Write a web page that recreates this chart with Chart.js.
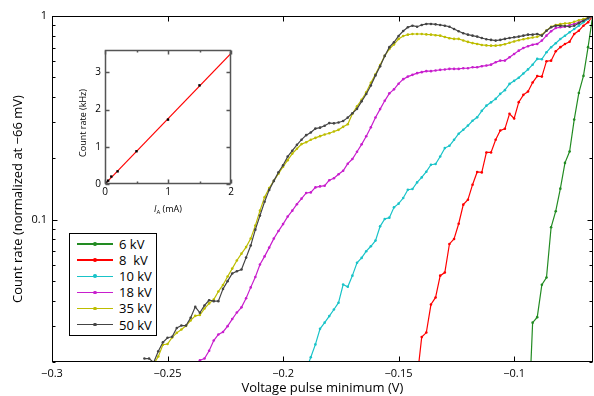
<!DOCTYPE html>
<html lang="en">
  <head>
    <meta charset="UTF-8" />
    <title>Count rate vs voltage pulse minimum</title>
    <script src="https://cdn.jsdelivr.net/npm/chart.js"></script>
    <style>
      html, body { margin: 0; padding: 0; background: #fff; }
      #wrap { position: relative; width: 594px; height: 396px; font-family: "Open Sans", sans-serif; }
      #main { position: absolute; left: 0; top: 0; }
      #inset { position: absolute; left: 60px; top: 40px; }
      #legend {
        position: absolute; left: 69px; top: 233px; width: 88px; height: 103px;
        box-sizing: border-box; border: 1.5px solid #000; background: #fff; padding-top: 2px;
      }
      .row { height: 16.1px; display: flex; align-items: center; font-size: 13px; white-space: pre; color: #000; }
      .swatch { position: relative; width: 36px; height: 1.4px; margin-left: 7px; margin-right: 6px; }
      .swatch i { position: absolute; left: 16px; top: -1.1px; width: 3.6px; height: 3.6px; border-radius: 50%; }
    </style>
  </head>
  <body>
    <div id="wrap">
      <canvas id="main" width="594" height="396"></canvas>
      <canvas id="inset" width="176" height="176"></canvas>
      <div id="legend"></div>
    </div>

    <script>
      // sample grid of the pulse minimum (V); every series ends at -0.066 V
      const voltage = [
        -0.260, -0.258, -0.256, -0.254, -0.252, -0.250, -0.248, -0.246, -0.244, -0.242,
        -0.240, -0.238, -0.236, -0.234, -0.232, -0.230, -0.228, -0.226, -0.224, -0.222,
        -0.220, -0.218, -0.216, -0.214, -0.212, -0.210, -0.208, -0.206, -0.204, -0.202,
        -0.200, -0.198, -0.196, -0.194, -0.192, -0.190, -0.188, -0.186, -0.184, -0.182,
        -0.180, -0.178, -0.176, -0.174, -0.172, -0.170, -0.168, -0.166, -0.164, -0.162,
        -0.160, -0.158, -0.156, -0.154, -0.152, -0.150, -0.148, -0.146, -0.144, -0.142,
        -0.140, -0.138, -0.136, -0.134, -0.132, -0.130, -0.128, -0.126, -0.124, -0.122,
        -0.120, -0.118, -0.116, -0.114, -0.112, -0.110, -0.108, -0.106, -0.104, -0.102,
        -0.100, -0.098, -0.096, -0.094, -0.092, -0.090, -0.088, -0.086, -0.084, -0.082,
        -0.080, -0.078, -0.076, -0.074, -0.072, -0.070, -0.068, -0.066,
      ];

      // normalized count rate, aligned to the end of the voltage grid
      const kv6 = [
        0.0089, 0.0312, 0.0332, 0.0479, 0.052, 0.0917, 0.11, 0.142, 0.19, 0.216,
        0.31, 0.419, 0.508, 0.703, 1.0,
      ];
      const kv8 = [
        0.0166, 0.0265, 0.0279, 0.0383, 0.0415, 0.0531, 0.055, 0.076, 0.0804, 0.0955,
        0.1185, 0.1253, 0.1485, 0.1714, 0.1706, 0.2138, 0.2138, 0.2467, 0.2742, 0.2793,
        0.3309, 0.3138, 0.3775, 0.4101, 0.4256, 0.4711, 0.507, 0.504, 0.6, 0.6035,
        0.671, 0.703, 0.729, 0.748, 0.816, 0.847, 0.896, 0.931, 1.0,
      ];
      const kv10 = [
        0.0184, 0.0211, 0.0244, 0.0291, 0.0312, 0.0336, 0.0362, 0.0391, 0.048, 0.0468,
        0.0531, 0.0614, 0.0649, 0.07, 0.074, 0.0789, 0.0927, 0.1008, 0.1023, 0.1149,
        0.1198, 0.1277, 0.1403, 0.1414, 0.1524, 0.1612, 0.172, 0.186, 0.1875, 0.2042,
        0.2246, 0.2305, 0.2467, 0.2641, 0.2762, 0.2897, 0.3057, 0.318, 0.3422, 0.3629,
        0.3767, 0.3917, 0.4146, 0.4323, 0.4641, 0.4803, 0.4977, 0.5219, 0.5468, 0.5765,
        0.6158, 0.6136, 0.6637, 0.7026, 0.7345, 0.7708, 0.8003, 0.8318, 0.8636, 0.8965,
        0.9314, 0.9667, 1.0,
      ];
      const kv18 = [
        0.0204, 0.0208, 0.0227, 0.0255, 0.0273, 0.0281, 0.03, 0.0325, 0.035, 0.0371,
        0.0411, 0.0465, 0.0523, 0.0602, 0.066, 0.0729, 0.0807, 0.0879, 0.0951, 0.1035,
        0.1107, 0.1191, 0.1268, 0.1352, 0.1361, 0.144, 0.1456, 0.1468, 0.1562, 0.1597,
        0.1671, 0.1739, 0.1883, 0.1985, 0.2155, 0.2343, 0.2566, 0.284, 0.3172, 0.349,
        0.3833, 0.4171, 0.4363, 0.4652, 0.4898, 0.504, 0.514, 0.524, 0.53, 0.536,
        0.536, 0.54, 0.544, 0.546, 0.55, 0.55, 0.55, 0.554, 0.554, 0.56,
        0.56, 0.567, 0.571, 0.577, 0.593, 0.604, 0.604, 0.627, 0.651, 0.676,
        0.697, 0.71, 0.723, 0.729, 0.757, 0.801, 0.841, 0.873, 0.88, 0.886,
        0.903, 0.914, 0.931, 0.956, 0.978, 1.0,
      ];
      const kv35 = [
        0.0195, 0.0213, 0.0243, 0.0245, 0.0264, 0.0278, 0.0289, 0.0301, 0.032, 0.0337,
        0.034, 0.0366, 0.0388, 0.0405, 0.0444, 0.0478, 0.0526, 0.0575, 0.063, 0.0681,
        0.0733, 0.0807, 0.0935, 0.1107, 0.129, 0.143, 0.155, 0.168, 0.182, 0.196,
        0.211, 0.223, 0.235, 0.24, 0.247, 0.252, 0.257, 0.262, 0.2655, 0.271,
        0.276, 0.2856, 0.294, 0.331, 0.36, 0.388, 0.422, 0.47, 0.517, 0.575,
        0.637, 0.689, 0.725, 0.772, 0.798, 0.81, 0.816, 0.816, 0.816, 0.812,
        0.81, 0.805, 0.801, 0.789, 0.778, 0.772, 0.772, 0.758, 0.746, 0.736,
        0.729, 0.721, 0.717, 0.715, 0.715, 0.719, 0.727, 0.739, 0.75, 0.76,
        0.769, 0.777, 0.784, 0.791, 0.809, 0.849, 0.885, 0.903, 0.912, 0.919,
        0.921, 0.937, 0.953, 0.967, 0.981, 1.0,
      ];
      const kv50 = [
        0.0208, 0.0208, 0.0199, 0.0226, 0.025, 0.0263, 0.0266, 0.0294, 0.0302, 0.0302,
        0.033, 0.0373, 0.0349, 0.0379, 0.0402, 0.0398, 0.0398, 0.0457, 0.0499, 0.0544,
        0.0558, 0.0569, 0.0651, 0.0746, 0.0893, 0.1047, 0.1225, 0.14, 0.155, 0.171,
        0.185, 0.204, 0.218, 0.233, 0.247, 0.26, 0.268, 0.28, 0.283, 0.289,
        0.298, 0.297, 0.3, 0.305, 0.317, 0.333, 0.35, 0.381, 0.414, 0.456,
        0.511, 0.566, 0.637, 0.703, 0.743, 0.798, 0.844, 0.88, 0.896, 0.886,
        0.903, 0.914, 0.914, 0.91, 0.903, 0.896, 0.886, 0.864, 0.841, 0.823,
        0.81, 0.801, 0.792, 0.78, 0.769, 0.763, 0.757, 0.763, 0.772, 0.78,
        0.786, 0.792, 0.801, 0.81, 0.81, 0.816, 0.801, 0.847, 0.88, 0.896,
        0.896, 0.893, 0.886, 0.896, 0.921, 0.948, 0.978, 1.0,
      ];

      const seriesLabels = ["6 kV", "8  kV", "10 kV", "18 kV", "35 kV", "50 kV"];
      const seriesValues = [kv6, kv8, kv10, kv18, kv35, kv50];
      const seriesColors = ["#228b22", "#ff0000", "#19c3c8", "#c81ecd", "#bdbd00", "#444444"];

      const xTicks = [-0.3, -0.25, -0.2, -0.15, -0.1];
      const xTickLabels = ["\u22120.3", "\u22120.25", "\u22120.2", "\u22120.15", "\u22120.1"];
      const yTicks = [0.1, 1];
      const yTickLabels = ["0.1", "1"];
      const yMinorTicks = [0.02, 0.03, 0.04, 0.05, 0.06, 0.07, 0.08, 0.09, 0.2, 0.3, 0.4, 0.5, 0.6, 0.7, 0.8, 0.9];

      // inset: count rate vs anode current
      const currentMA = [0, 0.01, 0.02, 0.05, 0.1, 0.2, 0.5, 1, 1.5, 2];
      const rateKHz = [0, 0.02, 0.04, 0.09, 0.2, 0.34, 0.88, 1.73, 2.65, 3.52];
      const fitCurrent = [0, 2];
      const fitRate = [0, 3.51];
      const insetXTicks = [0, 1, 2];
      const insetXMinor = [0.5, 1.5];
      const insetYTicks = [0, 1, 2, 3];

      Chart.defaults.font.family = '"Open Sans", sans-serif';
      Chart.defaults.color = "#000";

      // frame with inward tick marks on all four sides
      const frameTicks = {
        id: "frameTicks",
        afterDraw(chart, args, o) {
          const { ctx, chartArea: a, scales } = chart;
          const x0 = Math.round(a.left) + 0.5, x1 = Math.round(a.right) - 0.5;
          const y0 = Math.round(a.top) + 0.5, y1 = Math.round(a.bottom) - 0.5;
          ctx.save();
          ctx.strokeStyle = o.color;
          ctx.lineWidth = o.width;
          ctx.beginPath();
          const xt = (v, len) => {
            const x = Math.round(scales.x.getPixelForValue(v)) + 0.5;
            ctx.moveTo(x, y1); ctx.lineTo(x, y1 - len);
            ctx.moveTo(x, y0); ctx.lineTo(x, y0 + len);
          };
          const yt = (v, len) => {
            const y = Math.round(scales.y.getPixelForValue(v)) + 0.5;
            ctx.moveTo(x0, y); ctx.lineTo(x0 + len, y);
            ctx.moveTo(x1, y); ctx.lineTo(x1 - len, y);
          };
          o.xMajor.forEach((v) => xt(v, o.major));
          (o.xMinor || []).forEach((v) => xt(v, o.minor));
          o.yMajor.forEach((v) => yt(v, o.major));
          (o.yMinor || []).forEach((v) => yt(v, o.minor));
          ctx.stroke();
          ctx.strokeRect(x0, y0, x1 - x0, y1 - y0);
          ctx.restore();
        },
      };

      // y title placed by hand, it is not centred on the axis in the original
      const mainTitle = {
        id: "mainTitle",
        afterDraw(chart) {
          const ctx = chart.ctx;
          ctx.save();
          ctx.translate(18, 199);
          ctx.rotate(-Math.PI / 2);
          ctx.font = '13px "Open Sans", sans-serif';
          ctx.fillStyle = "#000";
          ctx.textAlign = "center";
          ctx.textBaseline = "middle";
          ctx.fillText("Count rate (normalized at \u221266 mV)", 0, 0);
          ctx.restore();
        },
      };

      new Chart(document.getElementById("main"), {
        type: "line",
        data: {
          datasets: seriesValues.map((vals, i) => ({
            label: seriesLabels[i],
            data: vals.map((v, j) => ({ x: voltage[voltage.length - vals.length + j], y: v })),
            borderColor: seriesColors[i],
            backgroundColor: seriesColors[i],
            borderWidth: 1.2,
            pointRadius: 1.3,
            pointBorderWidth: 0,
            pointHoverRadius: 0,
            order: seriesValues.length - 1 - i,
          })),
        },
        options: {
          responsive: false,
          animation: false,
          events: [],
          layout: { padding: { top: 16, right: 1, left: 0, bottom: 0 } },
          plugins: {
            legend: { display: false },
            tooltip: { enabled: false },
            frameTicks: {
              color: "#000", width: 1, major: 5, minor: 3,
              xMajor: xTicks, yMajor: yTicks, yMinor: yMinorTicks,
            },
          },
          scales: {
            x: {
              type: "linear",
              min: -0.3,
              max: -0.066,
              grid: { display: false, drawTicks: false },
              border: { display: false },
              afterBuildTicks: (s) => { s.ticks = xTicks.map((v) => ({ value: v })); },
              afterFit: (s) => { s.height = 34; },
              ticks: { padding: 5, font: { size: 11 }, maxRotation: 0, callback: (v, i) => xTickLabels[i] },
              title: { display: true, text: "Voltage pulse minimum (V)", font: { size: 13 }, padding: 0 },
            },
            y: {
              type: "logarithmic",
              min: 0.02,
              max: 1,
              grid: { display: false, drawTicks: false },
              border: { display: false },
              afterBuildTicks: (s) => { s.ticks = yTicks.map((v) => ({ value: v })); },
              afterFit: (s) => { s.width = 52; },
              ticks: { padding: 5, font: { size: 11 }, callback: (v, i) => yTickLabels[i] },
            },
          },
        },
        plugins: [frameTicks, mainTitle],
      });

      // inset axis titles (italic I with subscript A)
      const insetTitles = {
        id: "insetTitles",
        afterDraw(chart) {
          const ctx = chart.ctx;
          ctx.save();
          ctx.fillStyle = "#000";
          ctx.textBaseline = "alphabetic";
          const fam = '"Open Sans", sans-serif';
          const parts = [
            { t: "I", f: "italic 9px " + fam, dy: 0 },
            { t: "A", f: "6px " + fam, dy: 2 },
            { t: " (mA)", f: "9px " + fam, dy: 0 },
          ];
          let w = 0;
          parts.forEach((p) => { ctx.font = p.f; w += ctx.measureText(p.t).width; });
          let x = 108 - w / 2;
          parts.forEach((p) => {
            ctx.font = p.f;
            ctx.fillText(p.t, x, 172 + p.dy);
            x += ctx.measureText(p.t).width;
          });
          ctx.translate(23, 83);
          ctx.rotate(-Math.PI / 2);
          ctx.font = "9px " + fam;
          ctx.textAlign = "center";
          ctx.textBaseline = "middle";
          ctx.fillText("Count rate (kHz)", 0, 0);
          ctx.restore();
        },
      };

      new Chart(document.getElementById("inset"), {
        type: "line",
        data: {
          datasets: [
            {
              data: currentMA.map((x, i) => ({ x: x, y: rateKHz[i] })),
              showLine: false,
              pointStyle: "rect",
              pointRadius: 1.7,
              pointBorderWidth: 0,
              backgroundColor: "#000",
              borderColor: "#000",
              order: 0,
            },
            {
              data: fitCurrent.map((x, i) => ({ x: x, y: fitRate[i] })),
              borderColor: "#ff0000",
              borderWidth: 1.2,
              pointRadius: 0,
              order: 1,
            },
          ],
        },
        options: {
          responsive: false,
          animation: false,
          events: [],
          layout: { padding: { top: 9, right: 5, left: 0, bottom: 0 } },
          plugins: {
            legend: { display: false },
            tooltip: { enabled: false },
            frameTicks: {
              color: "#555", width: 1.5, major: 4, minor: 2,
              xMajor: insetXTicks, xMinor: insetXMinor, yMajor: insetYTicks,
            },
          },
          scales: {
            x: {
              type: "linear",
              min: 0,
              max: 2,
              grid: { display: false, drawTicks: false },
              border: { display: false },
              afterBuildTicks: (s) => { s.ticks = insetXTicks.map((v) => ({ value: v })); },
              afterFit: (s) => { s.height = 32; },
              ticks: { padding: 2, font: { size: 10 }, maxRotation: 0, callback: (v) => String(v) },
            },
            y: {
              type: "linear",
              min: 0,
              max: 3.6,
              grid: { display: false, drawTicks: false },
              border: { display: false },
              afterBuildTicks: (s) => { s.ticks = insetYTicks.map((v) => ({ value: v })); },
              afterFit: (s) => { s.width = 45; },
              ticks: { padding: 4, font: { size: 10 }, callback: (v) => String(v) },
            },
          },
        },
        plugins: [frameTicks, insetTitles],
      });

      // legend inside the plot
      const legend = document.getElementById("legend");
      seriesLabels.forEach((label, i) => {
        const row = document.createElement("div");
        row.className = "row";
        row.innerHTML =
          '<span class="swatch" style="background:' + seriesColors[i] + '"><i style="background:' +
          seriesColors[i] + '"></i></span>' + label;
        legend.appendChild(row);
      });
    </script>
  </body>
</html>
